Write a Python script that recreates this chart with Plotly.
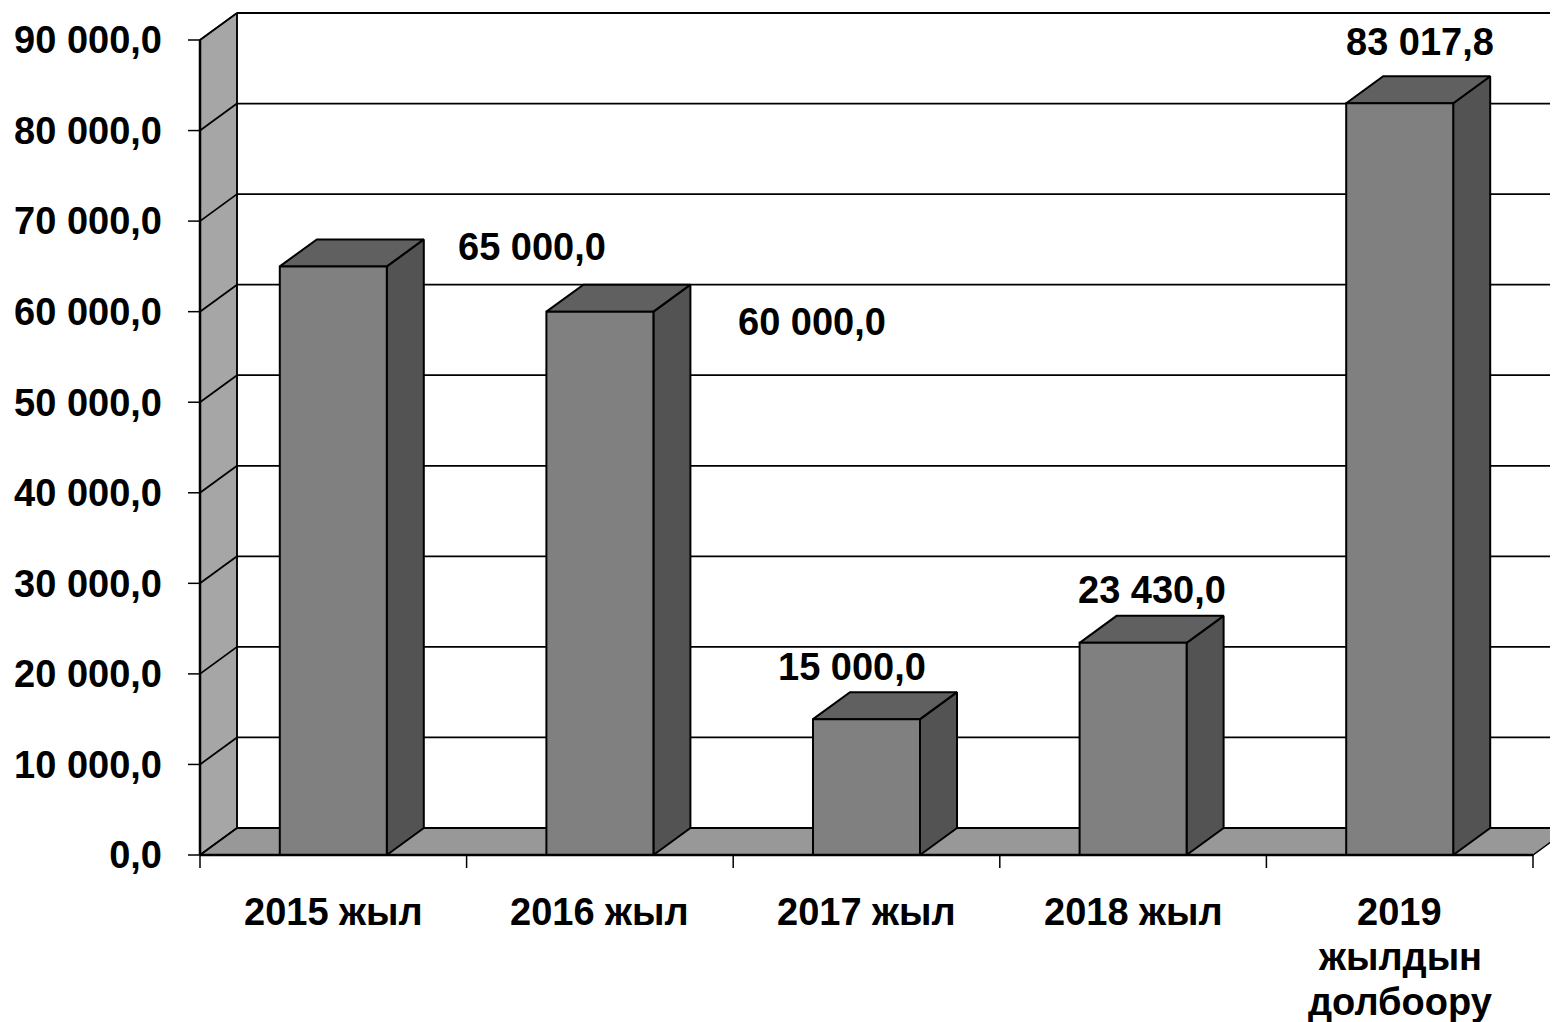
import plotly.graph_objects as go

# ---------------- data ----------------
categories = ["2015 жыл", "2016 жыл", "2017 жыл", "2018 жыл", "2019<br>жылдын<br>долбоору"]
values = [65000.0, 60000.0, 15000.0, 23430.0, 83017.8]
y_tick_values = [0, 10000, 20000, 30000, 40000, 50000, 60000, 70000, 80000, 90000]


def fmt(v):
    return f"{v:,.1f}".replace(",", " ").replace(".", ",")


value_labels = [fmt(v) for v in values]
y_tick_labels = [fmt(v) for v in y_tick_values]

# ---------------- style / geometry ----------------
OFF = 8                      # page body margin
FIG_W, FIG_H = 1558, 1022 - OFF
AXIS_X_PX = 200 - OFF        # front y-axis pixel (figure coords)
AXIS_Y_PX = 855 - OFF        # front floor pixel (figure coords)
M_L, M_R, M_T, M_B = AXIS_X_PX - 15, 0, 0, FIG_H - (AXIS_Y_PX + 15)
CAT_PX = 266.6               # pixels per category
K = 815.0 / 90000.0          # pixels per value unit
DX = 37.0 / CAT_PX           # depth offset (x, data units)
DY = 27.0 / K                # depth offset (y, data units)
HALF = 53.5 / CAT_PX         # half bar width

plot_w = FIG_W - M_L - M_R
plot_h = FIG_H - M_T - M_B
x0 = -0.5 - (AXIS_X_PX - M_L) / CAT_PX
x1 = x0 + plot_w / CAT_PX
y0 = -(M_T + plot_h - AXIS_Y_PX) / K
y1 = y0 + plot_h / K

FRONT = "#808080"
SIDE = "#535353"
TOP = "#606060"
WALL = "#a6a6a6"
FLOOR = "#989898"
FONT = dict(family="Liberation Sans, Arial, sans-serif", size=38, color="black", weight="bold")
# label offsets in px relative to the top-centre of each bar
label_shift = [(199, 19), (212, -10), (-15, 52), (19, 53), (20, 61)]
CAT_FIRST_LINE = -57         # px below the floor front edge
CAT_LINE_GAP = 45

fig = go.Figure()


def poly(xs, ys, fill, lw=1.5):
    fig.add_trace(go.Scatter(x=xs, y=ys, mode="lines", fill="toself", fillcolor=fill,
                             line=dict(color="black", width=lw), hoverinfo="skip"))


def lines(xs, ys, lw=1.5):
    fig.add_trace(go.Scatter(x=xs, y=ys, mode="lines", line=dict(color="black", width=lw),
                             hoverinfo="skip"))


xl = -0.5
xr = len(categories) - 0.5

# left wall and floor
poly([xl, xl, xl + DX, xl + DX, xl], [0, 90000, 90000 + DY, DY, 0], WALL)
poly([xl, xl + DX, xr + DX, xr, xl], [0, DY, DY, 0, 0], FLOOR)

# gridlines on back wall and left wall
gx, gy = [], []
for v in y_tick_values:
    gx += [xl + DX, x1, None, xl, xl + DX, None]
    gy += [v + DY, v + DY, None, v, v + DY, None]
lines(gx, gy, 1.8)
lines([xl + DX, xl + DX], [DY, 90000 + DY], 1.5)

# bars
for i, v in enumerate(values):
    poly([i + HALF, i + HALF + DX, i + HALF + DX, i + HALF, i + HALF],
         [0, DY, v + DY, v, 0], SIDE, 2)
    poly([i - HALF, i - HALF + DX, i + HALF + DX, i + HALF, i - HALF],
         [v, v + DY, v + DY, v, v], TOP, 2)
    poly([i - HALF, i - HALF, i + HALF, i + HALF, i - HALF],
         [0, v, v, 0, 0], FRONT, 2)

# front axis lines
lines([xl, xl], [0, 90000], 2.5)
lines([xl, xr], [0, 0], 2.5)

# tick marks
tx, ty = [], []
for b in range(len(categories) + 1):
    tx += [b - 0.5, b - 0.5, None]
    ty += [0, -13 / K, None]
for v in y_tick_values:
    tx += [xl - 12 / CAT_PX, xl, None]
    ty += [v, v, None]
lines(tx, ty, 1.5)

# data labels
for i, (v, t) in enumerate(zip(values, value_labels)):
    sx, sy = label_shift[i]
    fig.add_annotation(x=i, y=v, text=t, showarrow=False, xshift=sx, yshift=sy,
                       xanchor="center", yanchor="middle", font=FONT)

# category labels
for i, c in enumerate(categories):
    for j, part in enumerate(c.split("<br>")):
        fig.add_annotation(x=i, y=0, text=part, showarrow=False,
                           yshift=CAT_FIRST_LINE - j * CAT_LINE_GAP,
                           xanchor="center", yanchor="middle", font=FONT)

fig.update_layout(
    width=FIG_W, height=FIG_H,
    margin=dict(l=M_L, r=M_R, t=M_T, b=M_B, pad=0),
    paper_bgcolor="white", plot_bgcolor="white",
    showlegend=False,
    xaxis=dict(range=[x0, x1], showgrid=False, zeroline=False, showline=False,
               showticklabels=False, ticks=""),
    yaxis=dict(range=[y0, y1], showgrid=False, zeroline=False, showline=False,
               tickvals=y_tick_values, ticktext=y_tick_labels,
               ticks="", tickfont=FONT, ticklabelstandoff=22),
)

fig.write_html("out.html")
